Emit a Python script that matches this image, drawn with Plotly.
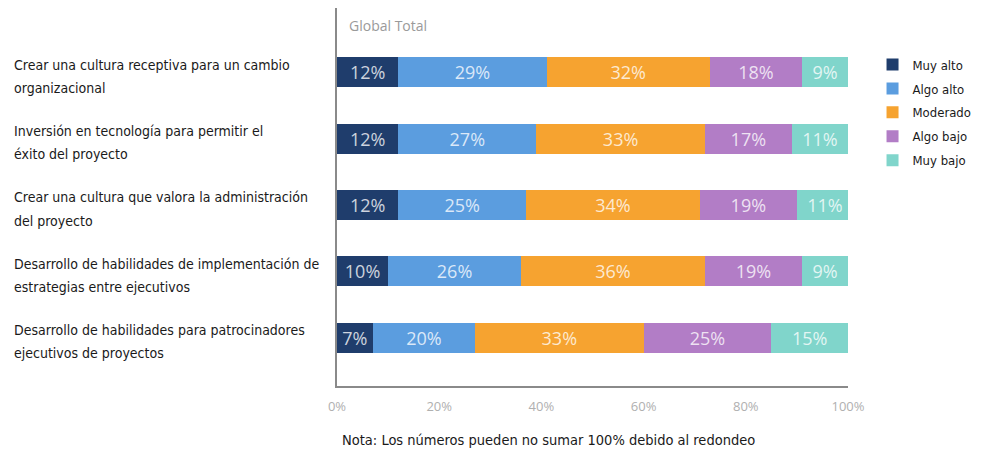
import plotly.graph_objects as go

# Survey rows (top to bottom) and the share of answers per level, in %
labels = [
    "Crear una cultura receptiva para un cambio<br>organizacional",
    "Inversión en tecnología para permitir el<br>éxito del proyecto",
    "Crear una cultura que valora la administración<br>del proyecto",
    "Desarrollo de habilidades de implementación de<br>estrategias entre ejecutivos",
    "Desarrollo de habilidades para patrocinadores<br>ejecutivos de proyectos",
]
levels = ["Muy alto", "Algo alto", "Moderado", "Algo bajo", "Muy bajo"]
muy_alto = [12, 12, 12, 10, 7]
algo_alto = [29, 27, 25, 26, 20]
moderado = [32, 33, 34, 36, 33]
algo_bajo = [18, 17, 19, 19, 25]
muy_bajo = [9, 11, 11, 9, 15]
series = [muy_alto, algo_alto, moderado, algo_bajo, muy_bajo]
colors = ["#1f3d6c", "#5b9ddf", "#f6a330", "#b27dc6", "#80d5cb"]

x_ticks = [0, 20, 40, 60, 80, 100]
x_ticktext = ["0%", "20%", "40%", "60%", "80%", "100%"]

rows = list(range(len(labels)))
label_font = "DejaVu Sans Condensed, sans-serif"
num_font = "Open Sans, sans-serif"

fig = go.Figure()
for name, vals, col in zip(levels, series, colors):
    fig.add_trace(go.Bar(
        y=rows, x=vals, name=name, orientation="h",
        marker=dict(color=col, line=dict(width=0)),
        width=0.455,
        text=[f"{v}%" for v in vals],
        textposition="inside", insidetextanchor="middle",
        textfont=dict(family=num_font, size=18, color="rgba(255,255,255,0.78)"),
        constraintext="none",
        legendgroup=name,
        hoverinfo="skip",
    ))

# Row labels, left aligned, one annotation per text line for wider spacing
annotations = []
line_gap = 0.175
for i, lab in enumerate(labels):
    first, second = lab.split("<br>")
    for j, part in enumerate((first, second)):
        annotations.append(dict(
            xref="paper", yref="y", x=-0.636, y=i + 0.06 + (j - 0.5) * 2 * line_gap,
            text=part, showarrow=False, xanchor="left", yanchor="middle", align="left",
            font=dict(family=label_font, size=14, color="#1a1a1a"),
        ))
annotations.append(dict(
    xref="paper", yref="paper", x=0.02, y=0.955, text="Global Total",
    showarrow=False, xanchor="left", yanchor="middle",
    font=dict(family=num_font, size=14, color="#9a9a9a"),
))
annotations.append(dict(
    xref="paper", yref="paper", x=0.414, y=-0.143,
    text="Nota: Los números pueden no sumar 100% debido al redondeo",
    showarrow=False, xanchor="center", yanchor="middle",
    font=dict(family=label_font, size=14.5, color="#1a1a1a"),
))

fig.update_layout(
    width=987, height=461,
    margin=dict(l=337, r=139, t=8, b=75, autoexpand=False),
    barmode="stack",
    plot_bgcolor="white", paper_bgcolor="white",
    showlegend=True,
    legend=dict(
        x=1.048, y=0.89, xanchor="left", yanchor="top",
        traceorder="grouped", tracegroupgap=4,
        font=dict(family=label_font, size=13, color="#1a1a1a"),
        itemclick=False, itemdoubleclick=False,
    ),
    annotations=annotations,
    xaxis=dict(
        range=[0, 100], tickvals=x_ticks, ticktext=x_ticktext,
        showgrid=False, zeroline=False,
        showline=True, linecolor="#8a8a8a", linewidth=1.5,
        tickfont=dict(family=num_font, size=13, color="#b0b0b0"),
        ticks="", ticklabelstandoff=8,
    ),
    yaxis=dict(
        range=[4.73, -0.97], showticklabels=False,
        showgrid=False, zeroline=False,
        showline=True, linecolor="#8a8a8a", linewidth=1.5,
        ticks="",
    ),
)

fig.write_html("out.html")
